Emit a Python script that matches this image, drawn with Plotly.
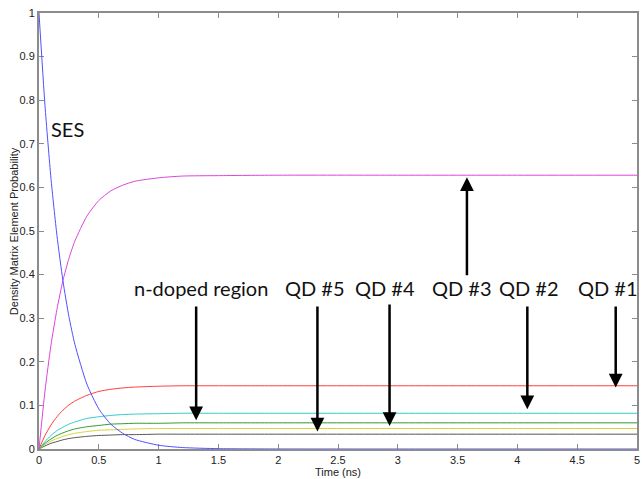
import plotly.graph_objects as go

# Time axis (ns)
time_ns = [0, 0.05, 0.1, 0.15, 0.2, 0.25, 0.3, 0.4, 0.5, 0.6, 0.7, 0.8, 1.0, 1.2, 1.5, 2.0, 3.0, 4.0, 5.0]

# Density matrix element probabilities
ses = [1.0, 0.788, 0.621, 0.490, 0.386, 0.304, 0.240, 0.149, 0.092, 0.057, 0.036, 0.022, 0.0086, 0.0033, 0.0008, 0.0001, 0, 0, 0]
qd3 = [0, 0.133, 0.238, 0.320, 0.386, 0.437, 0.477, 0.534, 0.570, 0.592, 0.605, 0.614, 0.622, 0.626, 0.627, 0.628, 0.628, 0.628, 0.628]
qd1 = [0, 0.031, 0.055, 0.074, 0.089, 0.101, 0.110, 0.123, 0.132, 0.137, 0.140, 0.142, 0.144, 0.145, 0.145, 0.145, 0.145, 0.145, 0.145]
qd2 = [0, 0.017, 0.031, 0.042, 0.050, 0.057, 0.062, 0.070, 0.074, 0.077, 0.079, 0.080, 0.081, 0.082, 0.082, 0.082, 0.082, 0.082, 0.082]
qd4 = [0, 0.013, 0.023, 0.031, 0.037, 0.042, 0.046, 0.051, 0.054, 0.057, 0.058, 0.059, 0.059, 0.060, 0.060, 0.060, 0.060, 0.060, 0.060]
qd5 = [0, 0.010, 0.018, 0.024, 0.029, 0.033, 0.036, 0.040, 0.043, 0.044, 0.045, 0.046, 0.047, 0.047, 0.047, 0.047, 0.047, 0.047, 0.047]
ndoped = [0, 0.007, 0.013, 0.017, 0.021, 0.024, 0.026, 0.029, 0.031, 0.032, 0.033, 0.033, 0.034, 0.034, 0.034, 0.034, 0.034, 0.034, 0.034]

x_ticks = [0, 0.5, 1, 1.5, 2, 2.5, 3, 3.5, 4, 4.5, 5]
x_tick_labels = ["0", "0.5", "1", "1.5", "2", "2.5", "3", "3.5", "4", "4.5", "5"]
y_ticks = [0, 0.1, 0.2, 0.3, 0.4, 0.5, 0.6, 0.7, 0.8, 0.9, 1]
y_tick_labels = ["0", "0.1", "0.2", "0.3", "0.4", "0.5", "0.6", "0.7", "0.8", "0.9", "1"]

series = [
    ("n-doped region", ndoped, "#555555"),
    ("QD #5", qd5, "#d4d43c"),
    ("QD #4", qd4, "#2f9a2f"),
    ("QD #2", qd2, "#30cccc"),
    ("QD #1", qd1, "#ff3c3c"),
    ("QD #3", qd3, "#dd44dd"),
    ("SES", ses, "#5050ff"),
]

fig = go.Figure()
for name, vals, col in series:
    fig.add_trace(go.Scatter(x=time_ns, y=vals, mode="lines", name=name,
                             line=dict(color=col, width=1, shape="spline", smoothing=0.6),
                             hoverinfo="skip"))

label_font = dict(family="Lato, Noto Sans, sans-serif", size=20, color="#111111")
small_font = dict(family="Liberation Sans, Arial, sans-serif", size=11, color="#222222")

# text labels
labels = [
    ("SES", 0.242, 0.735),
    ("n-doped region", 1.356, 0.369),
    ("QD #5", 2.304, 0.369),
    ("QD #4", 2.892, 0.369),
    ("QD #3", 3.540, 0.369),
    ("QD #2", 4.094, 0.369),
    ("QD #1", 4.758, 0.369),
]
for txt, lx, ly in labels:
    fig.add_annotation(x=lx, y=ly, xref="x", yref="y", text=txt, showarrow=False,
                       font=label_font, xanchor="center", yanchor="middle")

# arrows: (x, tail y, tip y)
arrows = [
    (1.314, 0.330, 0.066),
    (2.328, 0.330, 0.040),
    (2.931, 0.335, 0.053),
    (3.578, 0.395, 0.623),
    (4.083, 0.330, 0.091),
    (4.822, 0.330, 0.141),
]
for ax_, y0, y1 in arrows:
    fig.add_annotation(x=ax_, y=y1, ax=ax_, ay=y0, xref="x", yref="y", axref="x", ayref="y",
                       text="", showarrow=True, arrowhead=2, arrowsize=1.1, arrowwidth=2.5,
                       arrowcolor="black")

# y-axis title as rotated annotation
fig.add_annotation(x=-0.0415, y=0.5, xref="paper", yref="paper",
                   text="Density Matrix Element Probability", textangle=-90,
                   showarrow=False, font=small_font, xanchor="center", yanchor="middle")

axis_common = dict(showgrid=False, zeroline=False, showline=True, linecolor="#8c8c8c",
                   linewidth=2, mirror="ticks", ticks="inside", ticklen=5, tickcolor="#8c8c8c",
                   tickwidth=1, layer="below traces", tickfont=small_font)

fig.update_xaxes(range=[0, 5], tickvals=x_ticks, ticktext=x_tick_labels,
                 title=dict(text="Time (ns)", standoff=2, font=small_font),
                 **axis_common)
fig.update_yaxes(range=[0, 1], tickvals=y_ticks, ticktext=y_tick_labels,
                 **axis_common)

fig.update_layout(width=642, height=479, margin=dict(l=39, r=3, t=13, b=30),
                  paper_bgcolor="white", plot_bgcolor="white", showlegend=False,
                  hovermode=False)

fig.write_html("out.html")
